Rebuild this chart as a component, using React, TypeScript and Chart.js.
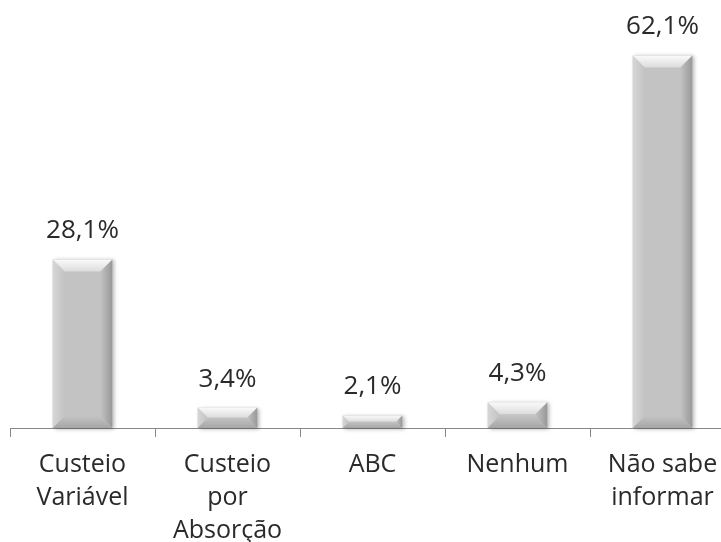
import React, { useEffect, useRef } from "react";
import { Chart, registerables } from "chart.js";

Chart.register(...registerables);

const categories: (string | string[])[] = [
  ["Custeio", "Variável"],
  ["Custeio", "por", "Absorção"],
  "ABC",
  "Nenhum",
  ["Não sabe", "informar"],
];
const values: number[] = [28.1, 3.4, 2.1, 4.3, 62.1];
const valueLabels: string[] = ["28,1%", "3,4%", "2,1%", "4,3%", "62,1%"];

const FACE = "#c3c3c3";

const bevelPlugin = {
  id: "bevel",
  beforeDatasetsDraw(chart: any) {
    const ctx = chart.ctx;
    const meta = chart.getDatasetMeta(0);
    meta.data.forEach((bar: any) => {
      const { x, y, base, width } = bar.getProps(["x", "y", "base", "width"], true);
      ctx.save();
      ctx.shadowColor = "rgba(0,0,0,0.3)";
      ctx.shadowBlur = 4;
      ctx.shadowOffsetX = 2;
      ctx.shadowOffsetY = 1;
      ctx.fillStyle = FACE;
      ctx.fillRect(x - width / 2, y, width, base - y);
      ctx.restore();
    });
  },
  afterDatasetsDraw(chart: any) {
    const ctx = chart.ctx;
    const meta = chart.getDatasetMeta(0);
    meta.data.forEach((bar: any, i: number) => {
      const { x, y, base, width } = bar.getProps(["x", "y", "base", "width"], true);
      const l = x - width / 2;
      const r = x + width / 2;
      const t = y;
      const b = base;
      const h = b - t;
      const bv = Math.min(12, h / 2, width / 2);
      ctx.save();
      let g = ctx.createLinearGradient(l, 0, l + bv, 0);
      g.addColorStop(0, "#d6d6d6");
      g.addColorStop(1, FACE);
      ctx.fillStyle = g;
      ctx.beginPath();
      ctx.moveTo(l, t);
      ctx.lineTo(l + bv, t + bv);
      ctx.lineTo(l + bv, b - bv);
      ctx.lineTo(l, b);
      ctx.closePath();
      ctx.fill();
      g = ctx.createLinearGradient(r, 0, r - bv, 0);
      g.addColorStop(0, "#989898");
      g.addColorStop(1, FACE);
      ctx.fillStyle = g;
      ctx.beginPath();
      ctx.moveTo(r, t);
      ctx.lineTo(r - bv, t + bv);
      ctx.lineTo(r - bv, b - bv);
      ctx.lineTo(r, b);
      ctx.closePath();
      ctx.fill();
      g = ctx.createLinearGradient(0, t, 0, t + bv);
      g.addColorStop(0, "#fafafa");
      g.addColorStop(1, "#dcdcdc");
      ctx.fillStyle = g;
      ctx.beginPath();
      ctx.moveTo(l, t);
      ctx.lineTo(r, t);
      ctx.lineTo(r - bv, t + bv);
      ctx.lineTo(l + bv, t + bv);
      ctx.closePath();
      ctx.fill();
      g = ctx.createLinearGradient(0, b - bv, 0, b);
      g.addColorStop(0, FACE);
      g.addColorStop(1, "#a6a6a6");
      ctx.fillStyle = g;
      ctx.beginPath();
      ctx.moveTo(l, b);
      ctx.lineTo(l + bv, b - bv);
      ctx.lineTo(r - bv, b - bv);
      ctx.lineTo(r, b);
      ctx.closePath();
      ctx.fill();
      ctx.fillStyle = "#2a2a2a";
      ctx.font = '26px "Open Sans"';
      ctx.textAlign = "center";
      ctx.textBaseline = "alphabetic";
      ctx.fillText(valueLabels[i], x, t - 21);
      ctx.restore();
    });
  },
};

export default function App() {
  const canvasRef = useRef<HTMLCanvasElement | null>(null);

  useEffect(() => {
    const canvas = canvasRef.current;
    if (!canvas) return;
    const chart = new Chart(canvas, {
      type: "bar",
      data: {
        labels: categories,
        datasets: [
          {
            data: values,
            backgroundColor: "rgba(0,0,0,0)",
            borderWidth: 0,
            categoryPercentage: 1,
            barPercentage: 0.41,
          },
        ],
      },
      options: {
        responsive: false,
        animation: false,
        layout: { padding: { left: 10, right: 5, top: 8, bottom: 0 } },
        plugins: {
          legend: { display: false },
          tooltip: { enabled: false },
        },
        scales: {
          x: {
            offset: true,
            grid: {
              display: true,
              offset: true,
              drawOnChartArea: false,
              drawTicks: true,
              tickLength: 9,
              color: "#888888",
              lineWidth: 1,
            },
            border: { display: true, color: "#888888", width: 1 },
            ticks: {
              color: "#2a2a2a",
              font: { family: '"Open Sans"', size: 25, lineHeight: 1.32 },
              padding: 11,
              maxRotation: 0,
              autoSkip: false,
            },
            afterFit: (scale: any) => {
              scale.height = 114;
            },
          },
          y: {
            display: false,
            min: 0,
            max: 70,
          },
        },
      },
      plugins: [bevelPlugin],
    });
    return () => chart.destroy();
  }, []);

  return (
    <div
      style={{
        position: "fixed",
        left: 0,
        top: 0,
        width: 721,
        height: 542,
        overflow: "hidden",
        background: "#ffffff",
      }}
    >
      <canvas
        ref={canvasRef}
        width={740}
        height={542}
        style={{ width: 740, height: 542, display: "block" }}
      />
    </div>
  );
}
